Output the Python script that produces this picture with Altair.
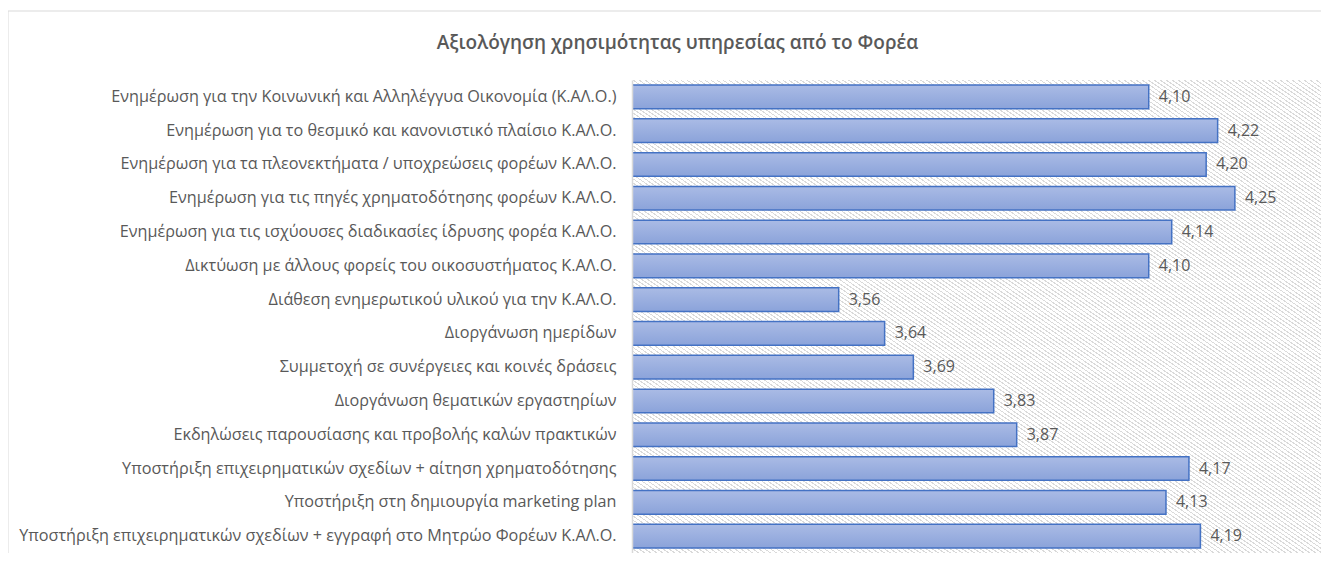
import altair as alt
import pandas as pd

categories = [
    "Ενημέρωση για την Κοινωνική και Αλληλέγγυα Οικονομία (Κ.ΑΛ.Ο.)",
    "Ενημέρωση για το θεσμικό και κανονιστικό πλαίσιο Κ.ΑΛ.Ο.",
    "Ενημέρωση για τα πλεονεκτήματα / υποχρεώσεις φορέων Κ.ΑΛ.Ο.",
    "Ενημέρωση για τις πηγές χρηματοδότησης φορέων Κ.ΑΛ.Ο.",
    "Ενημέρωση για τις ισχύουσες διαδικασίες ίδρυσης φορέα Κ.ΑΛ.Ο.",
    "Δικτύωση με άλλους φορείς του οικοσυστήματος Κ.ΑΛ.Ο.",
    "Διάθεση ενημερωτικού υλικού για την Κ.ΑΛ.Ο.",
    "Διοργάνωση ημερίδων",
    "Συμμετοχή σε συνέργειες και κοινές δράσεις",
    "Διοργάνωση θεματικών εργαστηρίων",
    "Εκδηλώσεις παρουσίασης και προβολής καλών πρακτικών",
    "Υποστήριξη επιχειρηματικών σχεδίων + αίτηση χρηματοδότησης",
    "Υποστήριξη στη δημιουργία marketing plan",
    "Υποστήριξη επιχειρηματικών σχεδίων + εγγραφή στο Μητρώο Φορέων Κ.ΑΛ.Ο.",
]
values = [4.10, 4.22, 4.20, 4.25, 4.14, 4.10, 3.56, 3.64, 3.69, 3.83, 3.87, 4.17, 4.13, 4.19]
title_text = "Αξιολόγηση χρησιμότητας υπηρεσίας από το Φορέα"

df = pd.DataFrame({"cat": categories, "val": values})

W, H = 689, 473
FONT = "Open Sans"
GREY = "#595959"

# hatch pattern via hard-stop gradient (style only)
N = 230
stops = []
for i in range(N):
    a = i / N
    b = (i + 0.3) / N
    stops += [
        {"offset": a, "color": "#dadada"},
        {"offset": b, "color": "#dadada"},
        {"offset": b, "color": "#ffffff"},
        {"offset": (i + 1) / N, "color": "#ffffff"},
    ]
hatch = {"gradient": "linear", "x1": 0, "y1": 1, "x2": 1, "y2": 0, "stops": stops}

bar_fill = {
    "gradient": "linear", "x1": 0, "y1": 0, "x2": 0, "y2": 1,
    "stops": [{"offset": 0, "color": "#aabbe5"}, {"offset": 1, "color": "#8ba3da"}],
}

one = pd.DataFrame({"k": [0]})

frame = alt.Chart(one).mark_rect(filled=False, stroke="#d9d9d9", strokeWidth=1).encode(
    x=alt.value(-624), x2=alt.value(W + 60), y=alt.value(-69), y2=alt.value(H + 40)
)

bg = alt.Chart(one).mark_rect(fill=hatch).encode(
    x=alt.value(0), x2=alt.value(W), y=alt.value(0), y2=alt.value(H)
)

base = alt.Chart(df)

y_enc = alt.Y(
    "cat:N", sort=categories, title=None,
    scale=alt.Scale(paddingInner=0.3, paddingOuter=0.15),
    axis=alt.Axis(ticks=False, domain=True, domainColor="#d9d9d9", domainWidth=1.5,
                  labelColor=GREY, labelFont=FONT, labelFontSize=16.2, labelPadding=16,
                  labelLimit=700, zindex=1),
)
x_enc = alt.X("val:Q", title=None, scale=alt.Scale(domain=[3.2, 4.4], zero=False, nice=False),
              axis=None)

bars = base.mark_bar(fill=bar_fill, stroke="#4472c4", strokeWidth=1.5, clip=True).encode(
    y=y_enc, x=x_enc)

labels = base.transform_calculate(
    lab="replace(format(datum.val, '.2f'), '.', ',')"
).mark_text(align="left", dx=10, font=FONT, fontSize=16, color=GREY).encode(
    y=alt.Y("cat:N", sort=categories), x=alt.X("val:Q"), text="lab:N"
)

chart = alt.layer(frame, bg, bars, labels).properties(
    width=W, height=H,
    padding={"left": 624, "top": 72, "right": 0, "bottom": 0},
    autosize=alt.AutoSizeParams(type="none"),
    title=alt.TitleParams(title_text, font=FONT, fontSize=19, fontWeight=600, color=GREY,
                          anchor="middle", frame="group", dx=-299, offset=-42),
).configure_view(stroke=None)

chart.save("out.html", embed_options={"renderer": "svg", "actions": False})
